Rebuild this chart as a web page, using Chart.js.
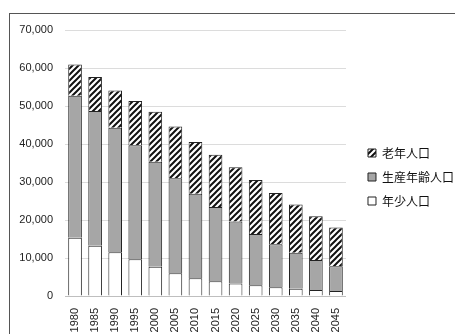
<!DOCTYPE html>
<html>
<head>
<meta charset="utf-8">
<script src="https://cdn.jsdelivr.net/npm/chart.js@4"></script>
<style>
  html, body { margin: 0; padding: 0; background: #fff; }
  #wrap { position: relative; width: 455px; height: 334px; overflow: hidden; }
  #chart { display: block; }
  #frame { position: absolute; left: 9px; top: 13px; width: 460px; height: 340px; border: 1px solid #555; box-sizing: border-box; pointer-events: none; z-index: 2; }
</style>
</head>
<body>
<div id="wrap">
  <canvas id="chart" width="455" height="334"></canvas>
  <div id="frame"></div>
</div>
<script>
const years = ['1980', '1985', '1990', '1995', '2000', '2005', '2010', '2015', '2020', '2025', '2030', '2035', '2040', '2045'];
const young = [15300, 13200, 11500, 9700, 7700, 6000, 4700, 3900, 3300, 2800, 2300, 1900, 1600, 1300];
const working = [37400, 35500, 32800, 30000, 27600, 25000, 22200, 19500, 16300, 13500, 11300, 9500, 7900, 6500];
const elderly = [8200, 8900, 9800, 11600, 13200, 13600, 13600, 13800, 14300, 14200, 13500, 12700, 11500, 10200];
const yTicks = [0, 10000, 20000, 30000, 40000, 50000, 60000, 70000];

const makeHatch = () => {
    const c = document.createElement('canvas');
    c.width = 6;
    c.height = 6;
    const g = c.getContext('2d');
    g.fillStyle = '#fff';
    g.fillRect(0, 0, 6, 6);
    g.strokeStyle = '#111';
    g.lineWidth = 2;
    g.beginPath();
    g.moveTo(-1, 7); g.lineTo(7, -1);
    g.moveTo(-4, 4); g.lineTo(4, -4);
    g.moveTo(2, 10); g.lineTo(10, 2);
    g.stroke();
    return g.createPattern(c, 'repeat');
};

// nudge the legend a little to the right, as in the original
const legendShift = {
    id: 'legendShift',
    afterLayout: (chart) => {
        const lg = chart.legend;
        lg.left += 10; lg.right += 10;
        lg.top -= 5; lg.bottom -= 5;
    }
};

const ctx = document.getElementById('chart').getContext('2d');
const hatch = makeHatch();
const cjk = '"Noto Sans CJK JP", sans-serif';

new Chart(ctx, {
    type: 'bar',
    data: {
        labels: years,
        datasets: [
            { label: '年少人口', data: young, backgroundColor: '#fff', borderColor: '#222', borderWidth: 1 },
            { label: '生産年齢人口', data: working, backgroundColor: '#a6a6a6', borderColor: '#222', borderWidth: 1 },
            { label: '老年人口', data: elderly, backgroundColor: hatch, borderColor: '#222', borderWidth: 1 }
        ]
    },
    options: {
        responsive: false,
        animation: false,
        layout: { padding: { left: 0, top: 30, right: 1, bottom: 0 } },
        datasets: { bar: { barPercentage: 0.68, categoryPercentage: 1 } },
        scales: {
            x: {
                stacked: true,
                grid: { display: false },
                border: { display: true, color: '#bfbfbf' },
                ticks: { minRotation: 90, maxRotation: 90, padding: 4, color: '#222', font: { family: 'Liberation Sans', size: 11 } },
                afterFit: (s) => { s.height = 38; }
            },
            y: {
                stacked: true,
                min: 0,
                max: 70000,
                afterBuildTicks: (s) => { s.ticks = yTicks.map(v => ({ value: v })); },
                grid: { color: '#dcdcdc', drawTicks: false },
                border: { display: false },
                ticks: {
                    padding: 12,
                    color: '#222',
                    font: { family: 'Liberation Sans', size: 11 },
                    callback: (v) => v.toLocaleString('en-US')
                },
                afterFit: (s) => { s.width = 65; }
            }
        },
        plugins: {
            legend: {
                position: 'right',
                reverse: true,
                labels: {
                    boxWidth: 8,
                    boxHeight: 8,
                    padding: 12,
                    color: '#111',
                    font: { family: cjk, size: 12 }
                }
            },
            tooltip: { enabled: false }
        }
    },
    plugins: [legendShift]
});
</script>
</body>
</html>
